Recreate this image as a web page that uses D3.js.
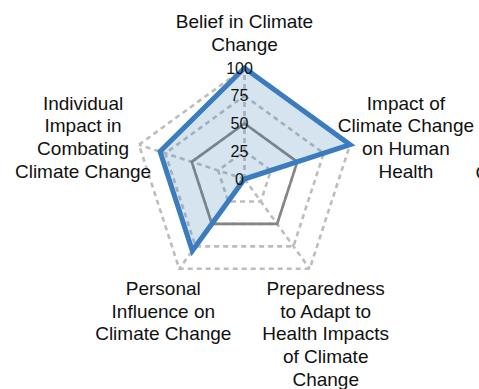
<!DOCTYPE html>
<html>
<head>
<meta charset="utf-8">
<script src="https://cdn.jsdelivr.net/npm/d3@7"></script>
<style>
  html, body { margin: 0; padding: 0; background: #fff; overflow: hidden; }
  svg { display: block; font-family: "Liberation Sans", Arial, sans-serif; }
</style>
</head>
<body>
<svg id="chart" width="479" height="389"></svg>
<script>
// Radar axes, clockwise from the top
const axes = [
  "Belief in Climate Change",
  "Impact of Climate Change on Human Health",
  "Preparedness to Adapt to Health Impacts of Climate Change",
  "Personal Influence on Climate Change",
  "Individual Impact in Combating Climate Change"
];
// Wrapped label lines for each axis
const axisLabelLines = [
  ["Belief in Climate", "Change"],
  ["Impact of", "Climate Change", "on Human", "Health"],
  ["Preparedness", "to Adapt to", "Health Impacts", "of Climate", "Change"],
  ["Personal", "Influence on", "Climate Change"],
  ["Individual", "Impact in", "Combating", "Climate Change"]
];
const responseValues = [100, 100, 0, 80, 80];
const referenceValues = [50, 50, 50, 50, 50];
const gridLevels = [25, 50, 75, 100];
const tickLabels = [0, 25, 50, 75, 100];
const legendLabels = ["Climate attitudes"];

const svg = d3.select("#chart");
const cx = 244.5, cy = 179, R = 111;

const r = d3.scaleLinear().domain([0, 100]).range([0, R]);
const angle = d3.scaleLinear().domain([0, axes.length]).range([0, 2 * Math.PI]);

const pt = (i, v) => {
  const a = angle(i);
  return [cx + Math.sin(a) * r(v), cy - Math.cos(a) * r(v)];
};
const closedLine = d3.line().curve(d3.curveLinearClosed);

// dashed rings
svg.append("g").selectAll("path").data(gridLevels).join("path")
  .attr("d", lv => closedLine(axes.map((_, i) => pt(i, lv))))
  .attr("fill", "none")
  .attr("stroke", "#bdbdbd")
  .attr("stroke-width", 2.6)
  .attr("stroke-dasharray", "5,4");

// dashed spokes
svg.append("g").selectAll("line").data(axes).join("line")
  .attr("x1", cx).attr("y1", cy)
  .attr("x2", (_, i) => pt(i, 100)[0])
  .attr("y2", (_, i) => pt(i, 100)[1])
  .attr("stroke", "#bdbdbd")
  .attr("stroke-width", 2.6)
  .attr("stroke-dasharray", "5,4");

// reference series
svg.append("path")
  .attr("d", closedLine(referenceValues.map((v, i) => pt(i, v))))
  .attr("fill", "none")
  .attr("stroke", "#858585")
  .attr("stroke-width", 2.6);

// response series
svg.append("path")
  .attr("d", closedLine(responseValues.map((v, i) => pt(i, v))))
  .attr("fill", "steelblue")
  .attr("fill-opacity", 0.22)
  .attr("stroke", "#3a7cbd")
  .attr("stroke-width", 5)
  .attr("stroke-linejoin", "miter");

// scale labels along the top axis
svg.append("g").selectAll("text").data(tickLabels).join("text")
  .attr("x", cx - 5)
  .attr("y", d => cy - r(d))
  .attr("text-anchor", "middle")
  .attr("dominant-baseline", "central")
  .attr("font-size", 16)
  .attr("fill", "#111")
  .text(d => d);

// axis labels
const fs = 19, lh = 22.8;
const labelG = svg.append("g");
axes.forEach((name, i) => {
  const a = angle(i);
  const s = Math.sin(a), c = Math.cos(a);
  const lines = axisLabelLines[i];
  const x = cx + s * 87 * (1 + Math.abs(s));
  const ay = cy - c * 135;
  let firstCenter;
  if (c > 0.5) firstCenter = ay - (lines.length - 1) * lh;
  else if (c < -0.5) firstCenter = ay;
  else firstCenter = ay - (lines.length - 1) * lh / 2;
  const t = labelG.append("text")
    .attr("text-anchor", "middle")
    .attr("font-size", fs)
    .attr("fill", "#111");
  lines.forEach((ln, k) => {
    t.append("tspan")
      .attr("x", x)
      .attr("y", firstCenter + k * lh)
      .attr("dominant-baseline", "central")
      .text(ln);
  });
});

// legend, to the right of the chart
svg.append("g").selectAll("text").data(legendLabels).join("text")
  .attr("x", cx + 231)
  .attr("y", cy - 7)
  .attr("dominant-baseline", "central")
  .attr("font-size", fs)
  .attr("fill", "#111")
  .text(d => d);
</script>
</body>
</html>
